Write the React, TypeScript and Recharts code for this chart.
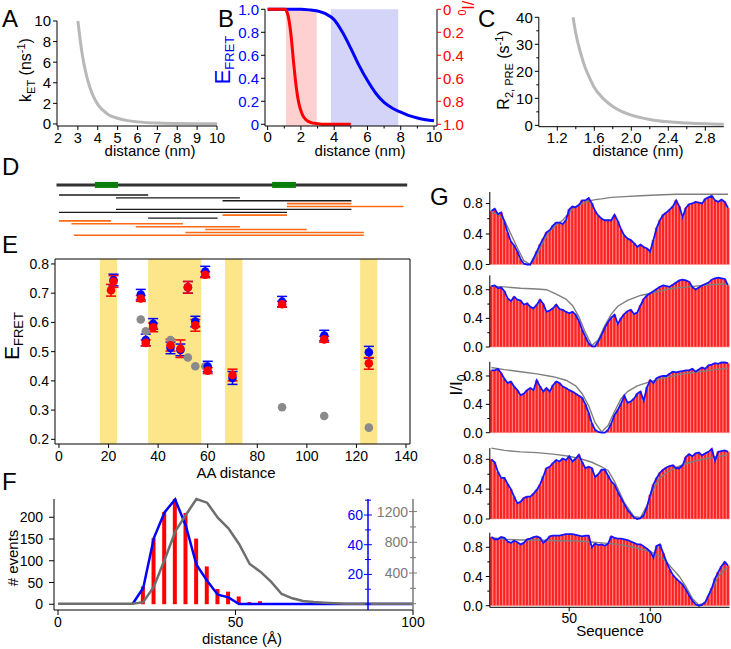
import React from 'react';
import { ComposedChart, ScatterChart, Line, Bar, Scatter, XAxis, YAxis, ReferenceArea, ReferenceLine, ErrorBar } from 'recharts';

const FONT = '"Liberation Sans", Arial, Helvetica, sans-serif';
const W = 731, H = 649;
const YW = 30, XH = 20;

// ---------------- DATA ----------------
// Panel A: k_ET vs distance
const A_DIST = [3.0, 3.1, 3.2, 3.3, 3.4, 3.5, 3.75, 4.0, 4.5, 5.0, 5.5, 6.0, 7.0, 8.0, 9.0, 10.0];
const A_KET = [10, 8.4, 7.0, 5.9, 5.0, 4.2, 2.8, 1.9, 0.95, 0.55, 0.32, 0.2, 0.08, 0.04, 0.02, 0.01];
const A_XTICKS = [2, 3, 4, 5, 6, 7, 8, 9, 10];
const A_YTICKS = [0, 2, 4, 6, 8, 10];

// Panel B: E_FRET and I/I0 vs distance
const B_E_X = [0, 1, 2, 2.5, 3, 3.5, 4, 4.5, 5, 5.5, 6, 6.5, 7, 7.5, 8, 8.5, 9, 9.5, 10];
const B_E_Y = [1, 1, 1, 0.995, 0.985, 0.96, 0.91, 0.8, 0.66, 0.51, 0.38, 0.27, 0.19, 0.14, 0.105, 0.075, 0.055, 0.04, 0.03];
const B_P_X = [0, 1.05, 1.15, 1.25, 1.35, 1.45, 1.55, 1.65, 1.75, 1.85, 1.95, 2.1, 2.3, 2.6, 3.0, 3.5, 5.0];
const B_P_Y = [0, 0, 0.02, 0.07, 0.16, 0.29, 0.45, 0.59, 0.71, 0.8, 0.86, 0.92, 0.96, 0.985, 0.995, 1, 1];
const B_FRET_RANGE = [3.8, 7.85];
const B_PRE_RANGE = [1.1, 2.95];
const B_XTICKS = [0, 1, 2, 3, 4, 5, 6, 7, 8, 9, 10];
const B_XMAJ = [0, 2, 4, 6, 8, 10];
const B_YTICKS = [0, 0.2, 0.4, 0.6, 0.8, 1.0];

// Panel C: R2,PRE vs distance
const C_DIST = [1.37, 1.4, 1.45, 1.5, 1.55, 1.6, 1.7, 1.8, 1.9, 2.0, 2.2, 2.4, 2.6, 2.8, 3.0];
const C_R2 = [40, 34, 27, 21.5, 17.5, 14, 9.8, 7, 5.1, 3.8, 2.2, 1.3, 0.85, 0.55, 0.38];
const C_XTICKS = [1.2, 1.4, 1.6, 1.8, 2.0, 2.2, 2.4, 2.6, 2.8];
const C_XMAJ = [1.2, 1.6, 2.0, 2.4, 2.8];
const C_YTICKS = [0, 5, 10, 15, 20, 25, 30, 35, 40];
const C_YMAJ = [0, 10, 20, 30, 40];

// Panel D: construct map (residue start, residue end, track, kind)
const D_CHAIN = [-1, 140.5];
const D_DOMAINS = [[14.5, 23.8], [86, 95.6]];
const D_SEGMENTS: [number, number, number, string][] = [
  [0, 36, 1, 'fret'], [23, 73, 2, 'fret'], [66, 118, 3, 'fret'], [92, 118, 4, 'pre'], [92, 139, 5, 'pre'],
  [23, 118, 6, 'fret'], [0, 92, 7, 'fret'], [66, 92, 8, 'pre'], [36, 64, 9, 'fret'], [0, 21, 10, 'pre'],
  [5, 50, 11, 'pre'], [31, 73, 12, 'pre'], [59, 100, 13, 'pre'], [51, 123, 14, 'pre'], [6, 123, 15, 'pre'],
];

// Panel E: E_FRET vs AA distance
const E_GRAY_X = [33, 35, 45, 52, 55, 59, 90, 107, 125];
const E_GRAY_Y = [0.61, 0.57, 0.54, 0.48, 0.45, 0.45, 0.31, 0.28, 0.24];
const E_BLUE_X = [22, 33, 35, 38, 45, 49, 52, 55, 59, 60, 70, 90, 107, 125];
const E_BLUE_Y = [0.745, 0.695, 0.54, 0.595, 0.513, 0.506, 0.72, 0.603, 0.774, 0.449, 0.41, 0.671, 0.555, 0.498];
const E_BLUE_ERR = [0.02, 0.018, 0.02, 0.018, 0.02, 0.02, 0.02, 0.018, 0.018, 0.018, 0.022, 0.018, 0.018, 0.02];
const E_RED_X = [21, 22, 33, 35, 38, 45, 49, 52, 55, 59, 60, 70, 90, 107, 125];
const E_RED_Y = [0.71, 0.74, 0.682, 0.53, 0.583, 0.522, 0.51, 0.72, 0.59, 0.763, 0.435, 0.42, 0.662, 0.542, 0.46];
const E_RED_ERR = [0.02, 0.02, 0.01, 0.01, 0.015, 0.02, 0.03, 0.02, 0.02, 0.01, 0.01, 0.02, 0.01, 0.01, 0.02];
const E_BANDS = [[16.5, 23.4], [36, 57.4], [67, 74], [121.5, 128.4]];
const E_XTICKS = [0, 20, 40, 60, 80, 100, 120, 140];
const E_YTICKS = [0.2, 0.3, 0.4, 0.5, 0.6, 0.7, 0.8];

// Panel F: distance histogram
const F_BIN = [24, 27, 30, 33, 36, 39, 42, 45, 48, 51, 54, 57];
const F_COUNT = [41, 152, 212, 242, 210, 151, 87, 35, 29, 18, 5, 7];
const F_BLUE_X = [21, 24, 27, 30, 33, 36, 39, 42, 45, 48, 51, 100];
const F_BLUE_Y = [0, 10.8, 44.5, 61.8, 70.5, 52.8, 26.5, 15.7, 6.3, 4.5, 0, 0];
const F_GRAY_X = [0, 21, 24, 27, 30, 33, 36, 39, 42, 45, 48, 51, 54, 57, 60, 63, 66, 69, 72, 75, 81, 100];
const F_GRAY_Y = [0, 0, 20, 221, 569, 938, 1156, 1364, 1316, 1121, 982, 778, 517, 417, 287, 126, 70, 35, 22, 13, 0, 0];
const F_XTICKS = [0, 50, 100];
const F_YTICKS = [0, 50, 100, 150, 200];
const F_BTICKS = [0, 10, 20, 30, 40, 50, 60, 70];
const F_BMAJ = [20, 40, 60];
const F_GTICKS = [0, 200, 400, 600, 800, 1000, 1200];
const F_GMAJ = [400, 800, 1200];

// Panel G: I/I0 per residue (every second residue)
const G_SEQ = [2, 4, 6, 8, 10, 12, 14, 16, 18, 20, 22, 24, 26, 28, 30, 32, 34, 36, 38, 40, 42, 44, 46, 48, 50, 52, 54, 56, 58, 60, 62, 64, 66, 68, 70, 72, 74, 76, 78, 80, 82, 84, 86, 88, 90, 92, 94, 96, 98, 100, 102, 104, 106, 108, 110, 112, 114, 116, 118, 120, 122, 124, 126, 128, 130, 132, 134, 136, 138, 140, 142, 144, 146, 148];
const G1_I = [0.70, 0.73, 0.66, 0.68, 0.56, 0.42, 0.30, 0.25, 0.17, 0.07, 0.01, 0.00, 0.00, 0.08, 0.17, 0.26, 0.34, 0.42, 0.45, 0.51, 0.55, 0.55, 0.53, 0.58, 0.72, 0.76, 0.75, 0.78, 0.84, 0.84, 0.87, 0.80, 0.70, 0.64, 0.60, 0.58, 0.58, 0.58, 0.65, 0.57, 0.46, 0.38, 0.34, 0.32, 0.28, 0.23, 0.26, 0.23, 0.21, 0.17, 0.32, 0.48, 0.58, 0.65, 0.68, 0.72, 0.76, 0.84, 0.76, 0.62, 0.74, 0.79, 0.80, 0.82, 0.81, 0.80, 0.86, 0.88, 0.90, 0.84, 0.82, 0.85, 0.82, 0.74];
const G1_REF: [number, number][] = [[2, 0.68], [6, 0.66], [10, 0.58], [14, 0.40], [18, 0.22], [22, 0.05], [26, 0.0], [30, 0.12], [34, 0.30], [38, 0.44], [42, 0.52], [46, 0.58], [50, 0.68], [54, 0.76], [58, 0.80], [62, 0.83], [66, 0.85], [70, 0.86], [76, 0.88], [84, 0.89], [94, 0.90], [104, 0.91], [116, 0.92], [128, 0.92], [140, 0.92], [148, 0.92]];
const G2_I = [0.85, 0.86, 0.82, 0.83, 0.78, 0.68, 0.64, 0.70, 0.66, 0.65, 0.59, 0.61, 0.56, 0.54, 0.59, 0.66, 0.60, 0.49, 0.51, 0.54, 0.59, 0.53, 0.52, 0.49, 0.47, 0.49, 0.45, 0.36, 0.24, 0.14, 0.05, 0.01, 0.01, 0.08, 0.17, 0.27, 0.35, 0.41, 0.45, 0.32, 0.40, 0.46, 0.50, 0.52, 0.46, 0.48, 0.58, 0.67, 0.72, 0.75, 0.78, 0.81, 0.84, 0.86, 0.85, 0.84, 0.87, 0.90, 0.93, 0.94, 0.93, 0.91, 0.84, 0.80, 0.83, 0.86, 0.88, 0.90, 0.94, 0.96, 0.97, 0.96, 0.95, 0.86];
const G2_REF: [number, number][] = [[2, 0.85], [10, 0.84], [20, 0.82], [30, 0.81], [36, 0.80], [42, 0.74], [48, 0.67], [52, 0.58], [56, 0.42], [60, 0.20], [64, 0.02], [68, 0.10], [72, 0.30], [76, 0.46], [80, 0.57], [86, 0.65], [94, 0.72], [104, 0.77], [114, 0.82], [124, 0.84], [136, 0.87], [148, 0.88]];
const G3_I = [0.88, 0.88, 0.90, 0.84, 0.76, 0.70, 0.72, 0.65, 0.60, 0.53, 0.55, 0.60, 0.63, 0.60, 0.74, 0.65, 0.58, 0.63, 0.58, 0.67, 0.72, 0.70, 0.65, 0.63, 0.60, 0.58, 0.55, 0.52, 0.49, 0.40, 0.28, 0.13, 0.04, 0.01, 0.00, 0.00, 0.04, 0.13, 0.25, 0.32, 0.41, 0.52, 0.42, 0.44, 0.48, 0.55, 0.58, 0.45, 0.64, 0.74, 0.70, 0.77, 0.79, 0.80, 0.80, 0.83, 0.86, 0.85, 0.86, 0.87, 0.88, 0.88, 0.90, 0.86, 0.89, 0.92, 0.90, 0.95, 0.96, 0.98, 0.97, 0.99, 0.99, 0.98];
const G3_REF: [number, number][] = [[2, 0.92], [10, 0.89], [20, 0.86], [30, 0.83], [40, 0.79], [48, 0.74], [54, 0.66], [58, 0.55], [62, 0.38], [66, 0.14], [70, 0.01], [74, 0.10], [78, 0.30], [82, 0.48], [86, 0.58], [92, 0.66], [100, 0.72], [110, 0.78], [120, 0.83], [130, 0.86], [140, 0.89], [148, 0.91]];
const G4_I = [0.80, 0.76, 0.63, 0.55, 0.55, 0.47, 0.40, 0.30, 0.21, 0.23, 0.28, 0.30, 0.30, 0.34, 0.39, 0.46, 0.57, 0.68, 0.70, 0.75, 0.79, 0.77, 0.81, 0.79, 0.84, 0.77, 0.81, 0.86, 0.76, 0.68, 0.70, 0.68, 0.56, 0.60, 0.66, 0.66, 0.58, 0.50, 0.46, 0.36, 0.28, 0.20, 0.12, 0.07, 0.02, 0.00, 0.01, 0.05, 0.16, 0.32, 0.46, 0.55, 0.62, 0.66, 0.69, 0.71, 0.72, 0.68, 0.68, 0.72, 0.83, 0.87, 0.84, 0.88, 0.89, 0.85, 0.88, 0.90, 0.94, 0.78, 0.90, 0.91, 0.92, 0.90];
const G4_REF: [number, number][] = [[2, 0.95], [10, 0.92], [20, 0.90], [30, 0.89], [40, 0.87], [50, 0.84], [58, 0.80], [64, 0.76], [70, 0.70], [74, 0.65], [78, 0.50], [84, 0.22], [90, 0.03], [94, 0.02], [98, 0.18], [102, 0.40], [106, 0.55], [110, 0.62], [116, 0.69], [122, 0.74], [130, 0.79], [140, 0.83], [148, 0.86]];
const G5_I = [0.94, 0.91, 0.91, 0.94, 0.93, 0.88, 0.86, 0.89, 0.87, 0.84, 0.86, 0.91, 0.92, 0.94, 0.95, 0.93, 0.86, 0.90, 0.95, 0.96, 0.96, 0.96, 0.97, 0.98, 0.98, 0.98, 0.97, 0.96, 0.95, 0.96, 0.96, 0.80, 0.85, 0.83, 0.84, 0.82, 0.85, 0.95, 0.93, 0.92, 0.92, 0.91, 0.90, 0.88, 0.86, 0.84, 0.84, 0.81, 0.78, 0.74, 0.66, 0.82, 0.84, 0.72, 0.60, 0.50, 0.42, 0.37, 0.33, 0.29, 0.22, 0.14, 0.07, 0.02, 0.00, 0.01, 0.05, 0.14, 0.24, 0.37, 0.46, 0.54, 0.60, 0.55];
const G5_REF: [number, number][] = [[2, 0.93], [10, 0.91], [20, 0.90], [30, 0.90], [40, 0.89], [50, 0.89], [60, 0.88], [70, 0.86], [80, 0.84], [90, 0.80], [100, 0.74], [106, 0.68], [110, 0.60], [114, 0.50], [118, 0.40], [122, 0.26], [126, 0.10], [130, 0.01], [134, 0.04], [138, 0.22], [142, 0.40], [146, 0.50], [148, 0.52]];
const G_YTICKS = [0, 0.2, 0.4, 0.6, 0.8];
const G_YMAJ = [0, 0.4, 0.8];
const G_XLABELS = [50, 100];

// ---------------- HELPERS ----------------
const zip = (xs: number[], ys: number[]) => xs.map((x, i) => [x, ys[i]] as [number, number]);
function merge(series: Record<string, [number, number][]>) {
  const xs = Array.from(new Set(Object.values(series).flatMap((s) => s.map((p) => p[0])))).sort((a, b) => a - b);
  return xs.map((x) => {
    const row: any = { x };
    for (const k of Object.keys(series)) {
      const p = series[k].find((q) => q[0] === x);
      row[k] = p ? p[1] : null;
    }
    return row;
  });
}
const box = (l: number, t: number, r: number, b: number, yl = 0, yr = 0, xb = 0) => ({
  left: l - yl, top: t, right: W - r - yr, bottom: H - b - xb,
});
const isIn = (arr: number[], v: number) => arr.some((m) => Math.abs(m - v) < 1e-6);
const ABS: React.CSSProperties = { position: 'absolute', left: 0, top: 0, width: W, height: H };
const AX = { stroke: '#000', strokeWidth: 1 };

type YT = { majors: number[]; fmt: (v: number) => string; side: 'left' | 'right'; labelSide?: 'left' | 'right'; color?: string; line?: string; len?: number; mlen?: number; cross?: boolean; fs?: number; gap?: number };
function yTick(o: YT) {
  return (p: any) => {
    const v = Number(p.payload.value);
    const x = Number(p.x), y = Number(p.y);
    const maj = isIn(o.majors, v);
    const len = maj ? (o.len ?? 4) : (o.mlen ?? 2.5);
    const out = o.side === 'left' ? -1 : 1;
    const x2 = x + out * len;
    const x1 = o.cross ? x - out * len : x;
    const ls = o.labelSide ?? o.side;
    const gap = o.gap ?? 2;
    const L = o.len ?? 4;
    const lx = ls === 'left' ? x - L - gap : x + L + gap;
    return (
      <g>
        <line x1={x1} y1={y} x2={x2} y2={y} stroke={o.line ?? '#000'} strokeWidth={1} />
        {maj && (
          <text x={lx} y={y} dy="0.36em" textAnchor={ls === 'left' ? 'end' : 'start'} fill={o.color ?? '#000'} fontSize={o.fs ?? 14} fontFamily={FONT}>
            {o.fmt(v)}
          </text>
        )}
      </g>
    );
  };
}
type XT = { majors: number[]; fmt: (v: number) => string; len?: number; mlen?: number; fs?: number; base?: number; only?: boolean };
function xTick(o: XT) {
  return (p: any) => {
    const v = Number(p.payload.value);
    const x = Number(p.x), y = Number(p.y);
    const maj = isIn(o.majors, v);
    if (!maj && o.only) return <g />;
    const len = maj ? (o.len ?? 4) : (o.mlen ?? 2.5);
    return (
      <g>
        <line x1={x} y1={y} x2={x} y2={y + len} stroke="#000" strokeWidth={1} />
        {maj && (
          <text x={x} y={y + (o.base ?? 17)} textAnchor="middle" fill="#000" fontSize={o.fs ?? 14} fontFamily={FONT}>
            {o.fmt(v)}
          </text>
        )}
      </g>
    );
  };
}
const f1 = (v: number) => (v === 0 ? '0' : v.toFixed(1));
const fs1 = (v: number) => v.toFixed(1);
const fint = (v: number) => String(v);
const axisCommon = { tickSize: 0, tickMargin: 0, tickLine: false, interval: 0 as const };

// ---------------- PANELS ----------------
function PanelA() {
  const data = A_DIST.map((x, i) => ({ x, k: A_KET[i] }));
  return (
    <div style={ABS}>
      <ComposedChart width={W} height={H} data={data} margin={box(57, 21, 217, 126, YW, 0, XH)}>
        <XAxis type="number" dataKey="x" domain={[1.95, 10]} ticks={A_XTICKS} height={XH} axisLine={AX} {...axisCommon} tick={xTick({ majors: A_XTICKS, fmt: fint, fs: 14.5, base: 16.5 })} />
        <YAxis type="number" domain={[-0.2, 10]} ticks={A_YTICKS} width={YW} axisLine={AX} {...axisCommon} tick={yTick({ side: 'left', majors: A_YTICKS, fmt: fint, fs: 15 })} />
        <Line type="monotone" dataKey="k" stroke="#b8b8b8" strokeWidth={3} dot={false} isAnimationActive={false} />
      </ComposedChart>
    </div>
  );
}

function PanelB() {
  const data = merge({ e: zip(B_E_X, B_E_Y), p: zip(B_P_X, B_P_Y) });
  return (
    <div style={ABS}>
      <ComposedChart width={W} height={H} data={data} margin={box(265, 9.3, 437, 126, YW, YW, XH)}>
        <XAxis type="number" dataKey="x" domain={[-0.16, 10.18]} ticks={B_XTICKS} height={XH} axisLine={AX} {...axisCommon} tick={xTick({ majors: B_XMAJ, fmt: fint, fs: 15, base: 16 })} />
        <YAxis yAxisId="l" type="number" domain={[-0.015, 1]} ticks={B_YTICKS} width={YW} axisLine={AX} {...axisCommon} tick={yTick({ side: 'left', majors: B_YTICKS, fmt: f1, fs: 15, color: '#0000ff' })} />
        <YAxis yAxisId="r" orientation="right" reversed type="number" domain={[0, 1.015]} ticks={B_YTICKS} width={YW} axisLine={AX} {...axisCommon} tick={yTick({ side: 'right', majors: B_YTICKS, fmt: f1, fs: 15, color: '#ff0000', line: '#ff0000' })} />
        <ReferenceArea yAxisId="l" x1={B_PRE_RANGE[0]} x2={B_PRE_RANGE[1]} fill="#ffd0d0" fillOpacity={1} stroke="none" />
        <ReferenceArea yAxisId="l" x1={B_FRET_RANGE[0]} x2={B_FRET_RANGE[1]} fill="#d4d4f9" fillOpacity={1} stroke="none" />
        <Line yAxisId="l" type="monotone" dataKey="e" stroke="#0000ff" strokeWidth={3} dot={false} connectNulls isAnimationActive={false} />
        <Line yAxisId="r" type="monotone" dataKey="p" stroke="#ff0000" strokeWidth={3} dot={false} connectNulls isAnimationActive={false} />
      </ComposedChart>
    </div>
  );
}

function PanelC() {
  const data = C_DIST.map((x, i) => ({ x, r: C_R2[i] }));
  return (
    <div style={ABS}>
      <ComposedChart width={W} height={H} data={data} margin={box(538.8, 17.3, 723.8, 126.7, YW, 0, XH)}>
        <XAxis type="number" dataKey="x" domain={[1.0, 3.0]} ticks={C_XTICKS} height={XH} axisLine={AX} {...axisCommon} tick={xTick({ majors: C_XMAJ, fmt: fs1, fs: 15, base: 16 })} />
        <YAxis type="number" domain={[-0.5, 40]} ticks={C_YTICKS} width={YW} axisLine={AX} {...axisCommon} tick={yTick({ side: 'left', majors: C_YMAJ, fmt: fint, fs: 15 })} />
        <Line type="monotone" dataKey="r" stroke="#b8b8b8" strokeWidth={3} dot={false} isAnimationActive={false} />
      </ComposedChart>
    </div>
  );
}

function PanelD() {
  const series: Record<string, [number, number][]> = {
    chain: [[D_CHAIN[0], -2.5], [D_CHAIN[1], -2.5]],
  };
  D_DOMAINS.forEach((d, i) => { series['dom' + i] = [[d[0], -2.5], [d[1], -2.5]]; });
  D_SEGMENTS.forEach((s, i) => { series['s' + i] = [[s[0], s[2]], [s[1], s[2]]]; });
  const data = merge(series);
  return (
    <div style={ABS}>
      <ComposedChart width={W} height={H} data={data} margin={box(56.5, 180.6, 407.2, 238.2)}>
        <XAxis hide type="number" dataKey="x" domain={[-1, 140.5]} />
        <YAxis hide type="number" reversed domain={[-4, 16]} />
        {D_SEGMENTS.map((s, i) => (
          <Line key={'s' + i} dataKey={'s' + i} stroke={s[3] === 'pre' ? '#ff6a13' : '#1a1a1a'} strokeWidth={s[3] === 'pre' ? 1.6 : 1.3} dot={false} connectNulls isAnimationActive={false} />
        ))}
        <Line dataKey="chain" stroke="#333" strokeWidth={3} dot={false} connectNulls isAnimationActive={false} />
        {D_DOMAINS.map((d, i) => (
          <Line key={'d' + i} dataKey={'dom' + i} stroke="#0a7d0a" strokeWidth={6} strokeLinecap="butt" dot={false} connectNulls isAnimationActive={false} />
        ))}
      </ComposedChart>
    </div>
  );
}

const mkDot = (c: string) => (p: any) => <circle cx={p.cx} cy={p.cy} r={4.3} fill={c} />;
function PanelE() {
  const gray = E_GRAY_X.map((x, i) => ({ x, y: E_GRAY_Y[i] }));
  const blue = E_BLUE_X.map((x, i) => ({ x, y: E_BLUE_Y[i], e: E_BLUE_ERR[i] }));
  const red = E_RED_X.map((x, i) => ({ x, y: E_RED_Y[i], e: E_RED_ERR[i] }));
  return (
    <div style={ABS}>
      <ScatterChart width={W} height={H} margin={box(55, 259, 410, 444, YW, 0, XH)}>
        <XAxis type="number" dataKey="x" domain={[-1.6, 141.6]} ticks={E_XTICKS} height={XH} axisLine={AX} {...axisCommon} tick={xTick({ majors: E_XTICKS, fmt: fint, fs: 14, base: 17 })} />
        <YAxis type="number" dataKey="y" domain={[0.184, 0.817]} ticks={E_YTICKS} width={YW} axisLine={AX} {...axisCommon} tick={yTick({ side: 'left', majors: E_YTICKS, fmt: fs1, fs: 14 })} />
        {E_BANDS.map((b, i) => (
          <ReferenceArea key={i} x1={b[0]} x2={b[1]} fill="#fde58a" fillOpacity={1} stroke="none" />
        ))}
        <ReferenceLine y={0.817} stroke="#000" strokeWidth={1} />
        <ReferenceLine x={141.6} stroke="#000" strokeWidth={1} />
        <Scatter data={gray} fill="#8a8a8a" shape={mkDot('#8a8a8a')} isAnimationActive={false} />
        <Scatter data={blue} fill="#0000ff" shape={mkDot('#0000ff')} isAnimationActive={false}>
          <ErrorBar dataKey="e" direction="y" width={5} stroke="#0000ff" strokeWidth={1.5} isAnimationActive={false} />
        </Scatter>
        <Scatter data={red} fill="#ff0000" shape={mkDot('#ff0000')} isAnimationActive={false}>
          <ErrorBar dataKey="e" direction="y" width={5} stroke="#ff0000" strokeWidth={1.5} isAnimationActive={false} />
        </Scatter>
      </ScatterChart>
    </div>
  );
}

function PanelF() {
  const data = merge({ n: zip(F_BIN, F_COUNT), b: zip(F_BLUE_X, F_BLUE_Y), g: zip(F_GRAY_X, F_GRAY_Y) });
  const dummy = [{ x: 0, b: 0 }, { x: 1, b: 0 }];
  return (
    <>
      <div style={ABS}>
        <ComposedChart width={W} height={H} data={data} margin={box(54, 499, 413, 610, YW, YW, XH)}>
          <XAxis type="number" dataKey="x" domain={[-1.13, 100]} ticks={F_XTICKS} height={XH} axisLine={AX} {...axisCommon} tick={xTick({ majors: F_XTICKS, fmt: fint, fs: 14, len: 5, base: 17 })} />
          <YAxis yAxisId="n" type="number" domain={[-13.2, 242]} ticks={F_YTICKS} width={YW} axisLine={AX} {...axisCommon} tick={yTick({ side: 'left', majors: F_YTICKS, fmt: fint, fs: 14, len: 5, gap: 6 })} />
          <YAxis yAxisId="g" orientation="right" type="number" domain={[-82, 1364]} ticks={F_GTICKS} width={YW} axisLine={{ stroke: '#7a7a7a', strokeWidth: 1.5 }} {...axisCommon} tick={yTick({ side: 'right', labelSide: 'left', cross: true, majors: F_GMAJ, mlen: 3, fmt: fint, fs: 14, color: '#7a7a7a', line: '#7a7a7a', gap: 1 })} />
          <YAxis yAxisId="b" orientation="right" hide width={0} type="number" domain={[-4, 70.8]} />
          <Bar yAxisId="n" dataKey="n" fill="#ff0000" barSize={4} isAnimationActive={false} />
          <Line yAxisId="b" dataKey="b" stroke="#0000ff" strokeWidth={2.5} dot={false} connectNulls isAnimationActive={false} />
          <Line yAxisId="g" dataKey="g" stroke="#6e6e6e" strokeWidth={2.5} dot={false} connectNulls isAnimationActive={false} />
        </ComposedChart>
      </div>
      <div style={ABS}>
        <ComposedChart width={W} height={H} data={dummy} margin={box(54, 499, 368, 610, 0, YW, 0)}>
          <XAxis hide type="number" dataKey="x" domain={[0, 1]} />
          <YAxis yAxisId="b" orientation="right" type="number" domain={[-4, 70.8]} ticks={F_BTICKS} width={YW} axisLine={{ stroke: '#0000ff', strokeWidth: 1.5 }} {...axisCommon} tick={yTick({ side: 'right', labelSide: 'left', cross: true, majors: F_BMAJ, mlen: 3, fmt: fint, fs: 14, color: '#0000ff', line: '#0000ff', gap: 1 })} />
          <Line yAxisId="b" dataKey="b" stroke="none" dot={false} isAnimationActive={false} />
        </ComposedChart>
      </div>
    </>
  );
}

const G_PANELS = [
  { I: G1_I, ref: G1_REF },
  { I: G2_I, ref: G2_REF },
  { I: G3_I, ref: G3_REF },
  { I: G4_I, ref: G4_REF },
  { I: G5_I, ref: G5_REF },
];
const G_GEOM = [
  { top: 192, bottom: 264.5, min: 0, max: 0.95 },
  { top: 275.4, bottom: 347, min: 0, max: 1.0 },
  { top: 361.8, bottom: 432.7, min: 0, max: 1.0 },
  { top: 448.1, bottom: 519, min: 0, max: 0.95 },
  { top: 532.7, bottom: 607.3, min: -0.022, max: 1.0 },
];
function PanelG({ idx }: { idx: number }) {
  const p = G_PANELS[idx];
  const g = G_GEOM[idx];
  const last = idx === G_PANELS.length - 1;
  const data = G_SEQ.map((r, i) => {
    const ref = p.ref.find((q) => q[0] === r);
    return { r, v: p.I[i], g: ref ? ref[1] : null };
  });
  return (
    <div style={ABS}>
      <ComposedChart width={W} height={H} data={data} barCategoryGap={0} margin={box(489.8, g.top, 729.6, g.bottom, YW, 0, last ? XH : 0)}>
        {last ? (
          <XAxis type="category" dataKey="r" height={XH} axisLine={AX} {...axisCommon} tick={xTick({ majors: G_XLABELS, fmt: fint, fs: 14, base: 16, only: true })} />
        ) : (
          <XAxis type="category" dataKey="r" hide />
        )}
        <YAxis type="number" domain={[g.min, g.max]} ticks={G_YTICKS} width={YW} axisLine={AX} {...axisCommon} tick={yTick({ side: 'left', majors: G_YMAJ, fmt: fs1, fs: 14, gap: 3 })} />
        <Bar dataKey="v" fill="#ff2020" stroke="#ff9090" strokeWidth={0.6} isAnimationActive={false} />
        <Line dataKey="g" stroke="#7f7f7f" strokeWidth={1.4} dot={false} connectNulls isAnimationActive={false} />
        <Line dataKey="v" stroke="#1414ff" strokeWidth={1.8} dot={false} isAnimationActive={false} />
      </ComposedChart>
    </div>
  );
}

function Labels() {
  const t = { fontFamily: FONT, fill: '#000' };
  return (
    <svg width={W} height={H} style={{ position: 'absolute', left: 0, top: 0 }}>
      <text x={2} y={27} fontSize={24} {...t}>A</text>
      <text x={218} y={27} fontSize={24} {...t}>B</text>
      <text x={478} y={27} fontSize={24} {...t}>C</text>
      <text x={2} y={175} fontSize={24} {...t}>D</text>
      <text x={2} y={253} fontSize={24} {...t}>E</text>
      <text x={2} y={490} fontSize={24} {...t}>F</text>
      <text x={430} y={205} fontSize={24} {...t}>G</text>

      <text x={150} y={156} fontSize={15} textAnchor="middle" {...t}>distance (nm)</text>
      <text x={360} y={156} fontSize={15} textAnchor="middle" {...t}>distance (nm)</text>
      <text x={638} y={156} fontSize={15} textAnchor="middle" {...t}>distance (nm)</text>

      <text transform="translate(31,70) rotate(-90)" fontSize={16} textAnchor="middle" {...t}>
        k<tspan fontSize={11} dy={4}>ET</tspan><tspan dy={-4}> (ns</tspan><tspan fontSize={11} dy={-6}>-1</tspan><tspan dy={6}>)</tspan>
      </text>
      <text transform="translate(230,60) rotate(-90)" fontSize={22} textAnchor="middle" fontFamily={FONT} fill="#0000ff">
        E<tspan fontSize={13} dy={4}>FRET</tspan>
      </text>
      <text transform="translate(462,6) rotate(90)" fontSize={16} textAnchor="middle" fontFamily={FONT} fill="#ff0000">
        I/I<tspan fontSize={11} dy={4}>0</tspan>
      </text>
      <text transform="translate(509,70) rotate(-90)" fontSize={16} textAnchor="middle" {...t}>
        R<tspan fontSize={11} dy={4}>2, PRE</tspan><tspan dy={-4}> (s</tspan><tspan fontSize={11} dy={-6}>-1</tspan><tspan dy={6}>)</tspan>
      </text>

      <text transform="translate(19,336) rotate(-90)" fontSize={21} textAnchor="middle" {...t}>
        E<tspan fontSize={13} dy={4}>FRET</tspan>
      </text>
      <text x={236} y={478} fontSize={15} textAnchor="middle" {...t}>AA distance</text>

      <text transform="translate(18,558) rotate(-90)" fontSize={15} textAnchor="middle" {...t}># events</text>
      <text x={242} y={644} fontSize={15} textAnchor="middle" {...t}>distance (Å)</text>

      <text transform="translate(462,385) rotate(-90)" fontSize={17} textAnchor="middle" {...t}>
        I/I<tspan fontSize={12} dy={4}>0</tspan>
      </text>
      <text x={610} y={636} fontSize={15} textAnchor="middle" {...t}>Sequence</text>
    </svg>
  );
}

export default function App() {
  return (
    <div style={{ position: 'absolute', left: 0, top: 0, width: W, height: H, background: '#fff', overflow: 'hidden', fontFamily: FONT }}>
      <PanelA />
      <PanelB />
      <PanelC />
      <PanelD />
      <PanelE />
      <PanelF />
      {G_PANELS.map((_, i) => (
        <PanelG key={i} idx={i} />
      ))}
      <Labels />
    </div>
  );
}
